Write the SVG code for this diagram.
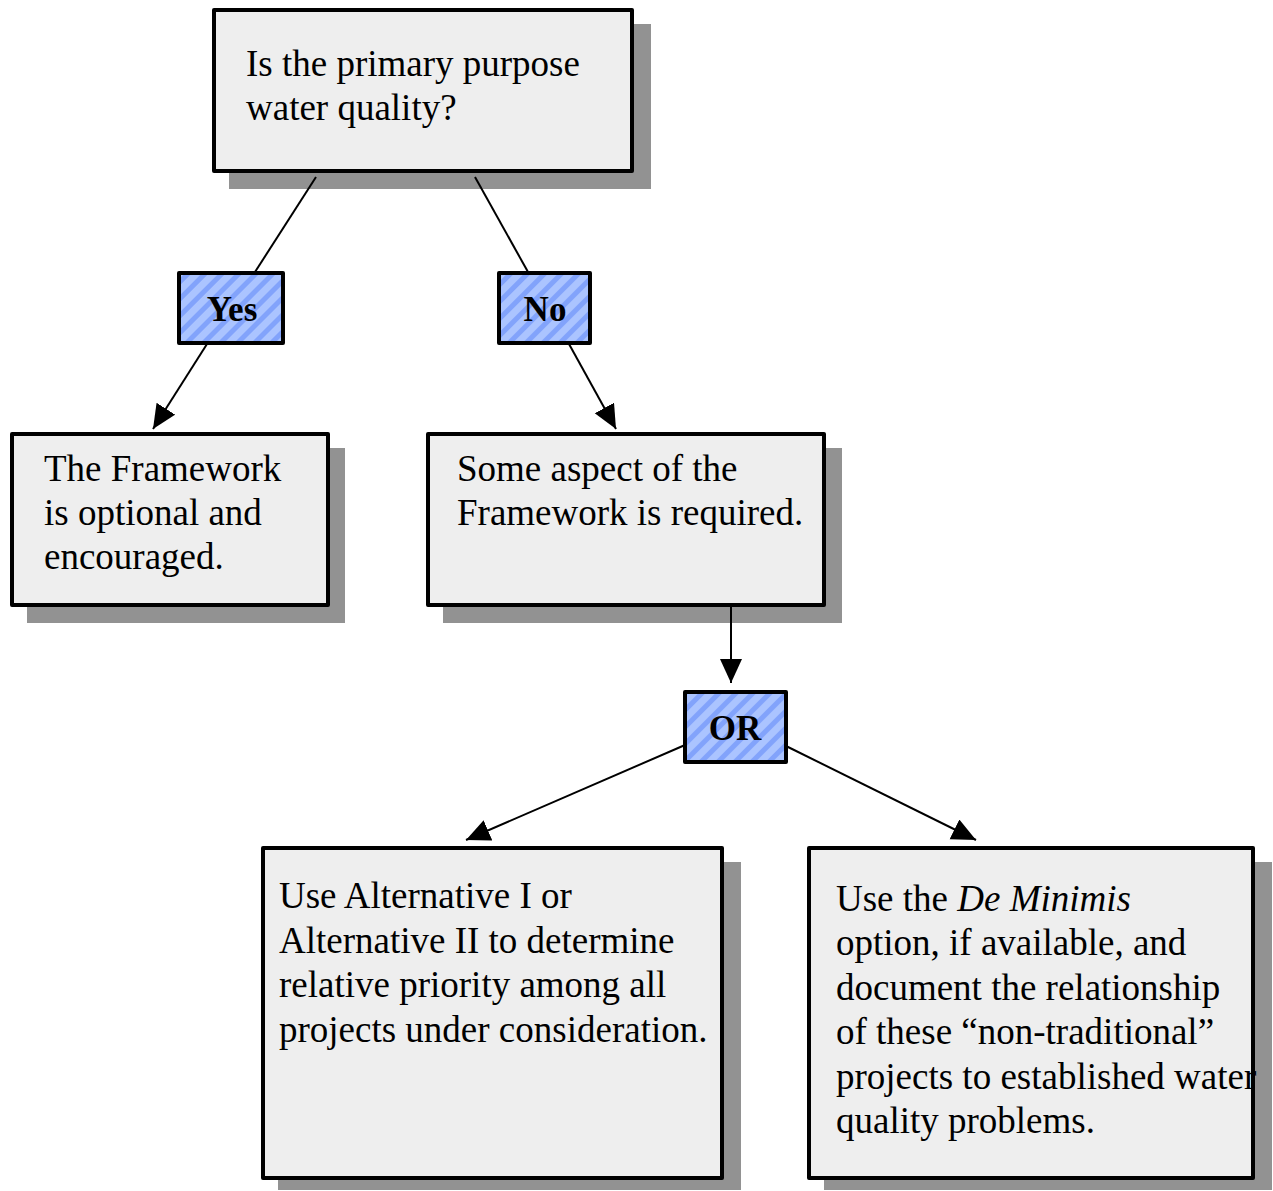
<svg xmlns="http://www.w3.org/2000/svg" width="1273" height="1191" viewBox="0 0 1273 1191">
<style>
.shadow{fill:#929292}
.box{fill:#eeeeee;stroke:#000;stroke-width:4;stroke-linejoin:round}
.lbl{fill:url(#stripes);stroke:#000;stroke-width:4;stroke-linejoin:round}
.t{font-family:"Liberation Serif","Times New Roman",serif;font-size:37px;fill:#000}
.b{font-family:"Liberation Serif","Times New Roman",serif;font-size:35px;font-weight:bold;fill:#000;text-anchor:middle}
.c{stroke:#000;stroke-width:2;fill:none}
</style>
<defs>
<pattern id="stripes" patternUnits="userSpaceOnUse" width="12" height="12" patternTransform="rotate(45)">
<rect width="12" height="12" fill="#abc4ff"/>
<rect width="5" height="12" fill="#82a3fb"/>
</pattern>
<marker id="arr" markerUnits="userSpaceOnUse" markerWidth="26" markerHeight="24" refX="24" refY="11" orient="auto">
<path d="M0,0 L24,11 L0,22 Z" fill="#000"/>
</marker>
</defs>
<g id="n-question">
<rect class="shadow" x="229" y="24" width="422" height="165"/>
<rect class="box" x="214" y="10" width="418" height="161"/>
<text class="t" x="246" y="76">Is the primary purpose</text>
<text class="t" x="246" y="120">water quality?</text>
</g>
<g id="n-yes">
<rect class="lbl" x="179" y="273" width="104" height="70"/>
<text class="b" x="232" y="321">Yes</text>
</g>
<g id="n-no">
<rect class="lbl" x="499" y="273" width="91" height="70"/>
<text class="b" x="545" y="321">No</text>
</g>
<g id="n-optional">
<rect class="shadow" x="27" y="448" width="318" height="175"/>
<rect class="box" x="12" y="434" width="316" height="171"/>
<text class="t" x="44" y="481">The Framework</text>
<text class="t" x="44" y="525">is optional and</text>
<text class="t" x="44" y="569">encouraged.</text>
</g>
<g id="n-required">
<rect class="shadow" x="443" y="448" width="399" height="175"/>
<rect class="box" x="428" y="434" width="396" height="171"/>
<text class="t" x="457" y="481">Some aspect of the</text>
<text class="t" x="457" y="525">Framework is required.</text>
</g>
<g id="n-or">
<rect class="lbl" x="685" y="692" width="101" height="70"/>
<text class="b" x="735" y="740">OR</text>
</g>
<g id="n-alt">
<rect class="shadow" x="278" y="862" width="463" height="328"/>
<rect class="box" x="263" y="848" width="459" height="330"/>
<text class="t" x="279" y="908">Use Alternative I or</text>
<text class="t" x="279" y="953">Alternative II to determine</text>
<text class="t" x="279" y="997">relative priority among all</text>
<text class="t" x="279" y="1042">projects under consideration.</text>
</g>
<g id="n-deminimis">
<rect class="shadow" x="824" y="862" width="448" height="328"/>
<rect class="box" x="809" y="848" width="444" height="330"/>
<text class="t" x="836" y="911">Use the <tspan font-style="italic">De Minimis</tspan></text>
<text class="t" x="836" y="955">option, if available, and</text>
<text class="t" x="836" y="1000">document the relationship</text>
<text class="t" x="836" y="1044">of these “non-traditional”</text>
<text class="t" x="836" y="1089">projects to established water</text>
<text class="t" x="836" y="1133">quality problems.</text>
</g>
<g id="connectors">
<line class="c" x1="316" y1="177" x2="255" y2="272"/>
<line class="c" x1="475" y1="177" x2="528" y2="272"/>
<line class="c" x1="207" y1="344" x2="153" y2="429" marker-end="url(#arr)"/>
<line class="c" x1="569" y1="344" x2="616" y2="429" marker-end="url(#arr)"/>
<line class="c" x1="731" y1="606" x2="731" y2="683" marker-end="url(#arr)"/>
<line class="c" x1="685" y1="745" x2="466" y2="840" marker-end="url(#arr)"/>
<line class="c" x1="786" y1="746" x2="976" y2="840" marker-end="url(#arr)"/>
</g>
</svg>
